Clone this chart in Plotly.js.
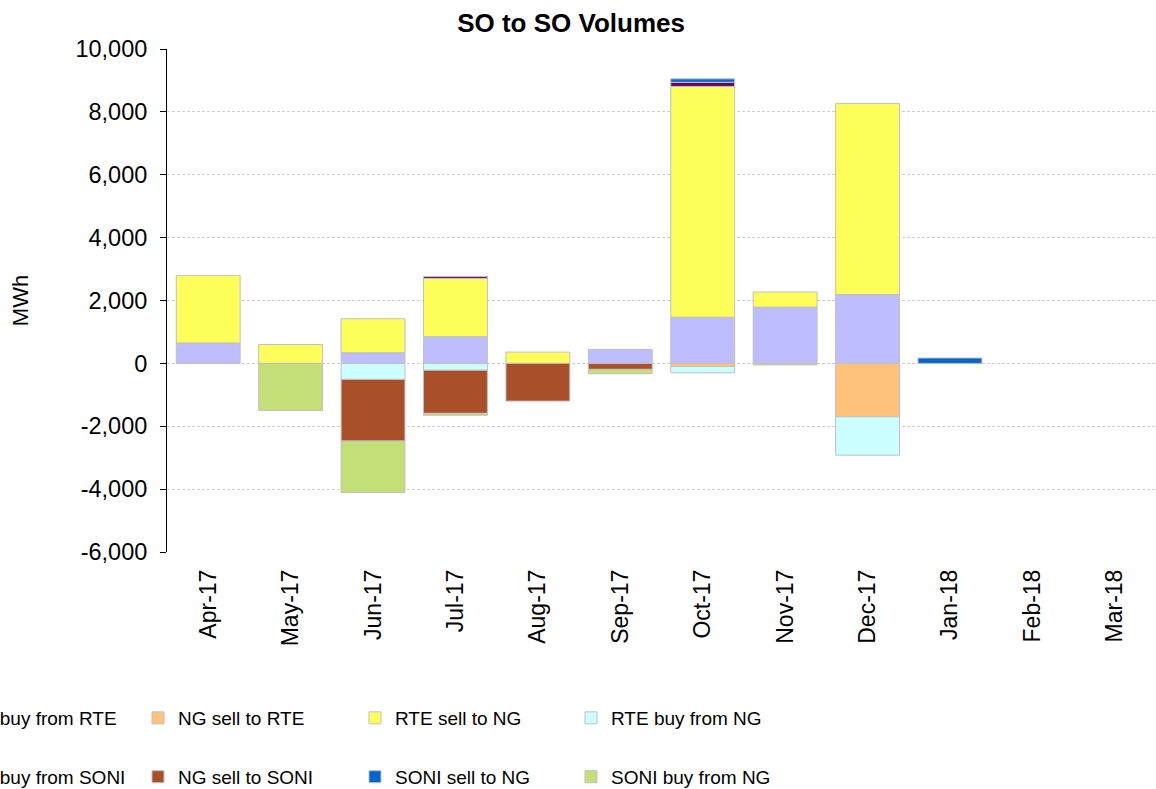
<!DOCTYPE html>
<html>
<head>
<meta charset="utf-8">
<script src="https://cdn.plot.ly/plotly-3.0.1.min.js"></script>
<style>html,body{margin:0;padding:0;background:#fff;}#chart{width:1156px;height:789px;}</style>
</head>
<body>
<div id="chart"></div>
<script>
var months = ['Apr-17','May-17','Jun-17','Jul-17','Aug-17','Sep-17','Oct-17','Nov-17','Dec-17','Jan-18','Feb-18','Mar-18'];
var ngBuyFromRTE   = [650, 0, 340, 850, 0, 445, 1470, 1790, 2190, 0, 0, 0];
var ngSellToRTE    = [0, 0, 0, 0, 0, 0, -100, 0, -1700, 0, 0, 0];
var rteSellToNG    = [2150, 600, 1080, 1850, 360, 0, 7340, 480, 6080, 0, 0, 0];
var rteBuyFromNG   = [0, 0, -510, -220, 0, 0, -200, 0, -1220, 0, 0, 0];
var ngBuyFromSONI  = [0, 0, 0, 60, 0, 0, 130, 0, 0, 0, 0, 0];
var ngSellToSONI   = [0, 0, -1960, -1370, -1200, -190, 0, 0, 0, 0, 0, 0];
var soniSellToNG   = [0, 0, 0, 0, 0, 0, 110, 0, 0, 170, 0, 0];
var soniBuyFromNG  = [0, -1500, -1640, -60, 0, -140, 0, -50, 0, 0, 0, 0];
var yTickVals = [-6000, -4000, -2000, 0, 2000, 4000, 6000, 8000, 10000];
var yTickText = ['-6,000', '-4,000', '-2,000', '0', '2,000', '4,000', '6,000', '8,000', '10,000'];

function nz(a){ return a.map(function(v){ return v === 0 ? null : v; }); }
function bar(name, vals, color, legend, lw){
  return {
    type: 'bar', name: name, x: months, y: nz(vals),
    marker: {color: color, line: {color: '#c0c0c0', width: 1}},
    legend: legend, legendwidth: lw, hoverinfo: 'x+y+name'
  };
}
var data = [
  bar('NG buy from RTE', ngBuyFromRTE, '#bdbdff', 'legend', 167),
  bar('NG sell to RTE', ngSellToRTE, '#ffc27a', 'legend', 172),
  bar('RTE sell to NG', rteSellToNG, '#ffff5c', 'legend', 171),
  bar('RTE buy from NG', rteBuyFromNG, '#ccffff', 'legend', 172),
  bar('NG buy from SONI', ngBuyFromSONI, '#660066', 'legend2', 167),
  bar('NG sell to SONI', ngSellToSONI, '#a94f2a', 'legend2', 172),
  bar('SONI sell to NG', soniSellToNG, '#0066cc', 'legend2', 171),
  bar('SONI buy from NG', soniBuyFromNG, '#c4df78', 'legend2', 172)
];
var fam = 'Liberation Sans, Arial, sans-serif';
var layout = {
  width: 1156, height: 789,
  margin: {l: 167, r: 0, t: 49, b: 237, autoexpand: false},
  paper_bgcolor: '#fff', plot_bgcolor: '#fff',
  font: {family: fam, color: '#000', size: 19},
  title: {text: '<b>SO to SO Volumes</b>', x: 0.494, xref: 'container', xanchor: 'center', y: 0.971, yanchor: 'middle', font: {size: 26, family: fam, color: '#000'}},
  barmode: 'relative', bargap: 0.225,
  showlegend: true,
  legend: {orientation: 'h', x: -0.2437, xanchor: 'left', y: -0.330, yanchor: 'middle', entrywidthmode: 'pixels', font: {size: 19, family: fam, color: '#000'}, bgcolor: 'rgba(0,0,0,0)', traceorder: 'normal'},
  legend2: {orientation: 'h', x: -0.2437, xanchor: 'left', y: -0.447, yanchor: 'middle', entrywidthmode: 'pixels', font: {size: 19, family: fam, color: '#000'}, bgcolor: 'rgba(0,0,0,0)', traceorder: 'normal'},
  xaxis: {
    type: 'category', categoryorder: 'array', categoryarray: months,
    range: [-0.5, 11.5], showgrid: false, zeroline: false, showline: false,
    ticks: '', tickangle: -90, ticklabelstandoff: 12,
    tickfont: {size: 23, family: fam, color: '#000'}, fixedrange: true
  },
  xaxis2: {
    overlaying: 'x', anchor: 'free', position: 0.375, side: 'bottom',
    range: [-0.5, 11.5], tick0: -0.5, dtick: 1, tickmode: 'linear',
    showticklabels: false, ticks: 'outside', ticklen: 7, tickwidth: 2, tickcolor: '#000',
    showline: true, linecolor: '#000', linewidth: 2, showgrid: false, zeroline: false, fixedrange: true
  },
  yaxis: {
    range: [-6000, 10000], tickmode: 'array', tickvals: yTickVals, ticktext: yTickText,
    showgrid: true, gridcolor: '#cfcfcf', griddash: '3px,2px', gridwidth: 1,
    zeroline: false, showline: true, linecolor: '#000', linewidth: 1,
    ticks: 'outside', ticklen: 6, tickcolor: '#000', ticklabelstandoff: 8,
    tickfont: {size: 23.5, family: fam, color: '#000'},
    title: {text: 'MWh', font: {size: 22, family: fam, color: '#000'}, standoff: 40},
    fixedrange: true
  }
};
Plotly.newPlot('chart', data, layout, {displayModeBar: false, staticPlot: true});
</script>
</body>
</html>
